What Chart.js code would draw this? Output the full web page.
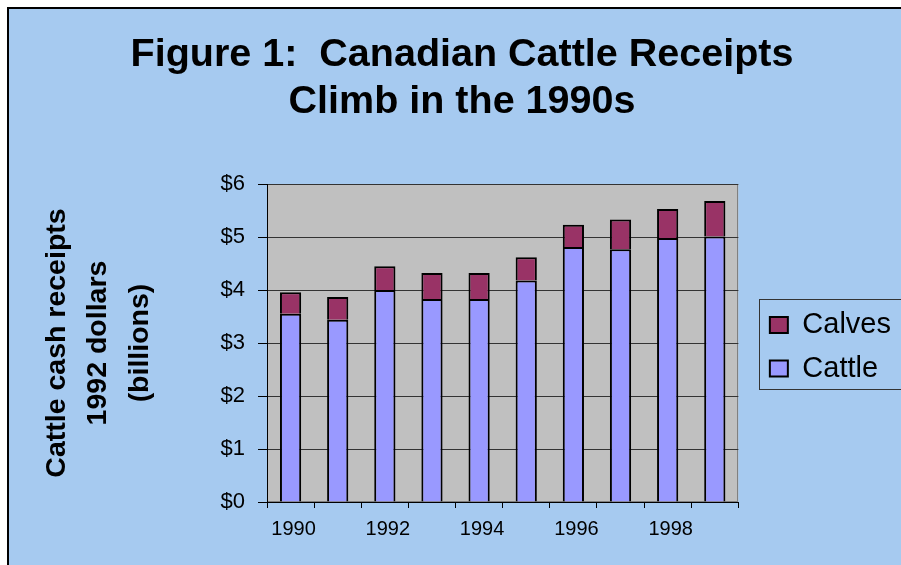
<!DOCTYPE html>
<html><head><meta charset="utf-8">
<script src="https://cdn.jsdelivr.net/npm/chart.js@4.4.1/dist/chart.umd.min.js"></script>
<style>html,body{margin:0;padding:0;background:#fff;overflow:hidden}canvas{display:block}</style>
</head><body>
<canvas id="c" width="901" height="565"></canvas>
<script>
const years = ['1990','1991','1992','1993','1994','1995','1996','1997','1998','1999'];
const cattle = [3.55, 3.44, 4.00, 3.83, 3.83, 4.18, 4.81, 4.77, 4.98, 5.01];
const calves = [0.41, 0.43, 0.45, 0.49, 0.49, 0.44, 0.42, 0.56, 0.55, 0.67];
const xTickLabels = ['1990','1992','1994','1996','1998'];
const yTickLabels = ['$0','$1','$2','$3','$4','$5','$6'];
const titleLines = ['Figure 1:  Canadian Cattle Receipts', 'Climb in the 1990s'];
const yTitleLines = ['Cattle cash receipts', '1992 dollars', '(billions)'];

Chart.defaults.font.family = "'Liberation Sans', Arial, sans-serif";
Chart.defaults.color = '#000';

const bgPlugin = {
  id: 'bg',
  beforeDraw(chart) {
    const {ctx, chartArea: a, width, height} = chart;
    ctx.save();
    ctx.fillStyle = '#ffffff'; ctx.fillRect(0, 0, width, height);
    ctx.fillStyle = '#000000'; ctx.fillRect(7, 7, width - 7, height - 7);
    ctx.fillStyle = '#A6CAF0'; ctx.fillRect(9, 9, width - 9, height - 9);
    ctx.fillStyle = '#C0C0C0'; ctx.fillRect(a.left, a.top, a.right - a.left, a.bottom - a.top);
    ctx.strokeStyle = '#808080'; ctx.lineWidth = 1;
    ctx.strokeRect(Math.round(a.left) + 0.5, Math.round(a.top) + 0.5, Math.round(a.right - a.left) - 1, Math.round(a.bottom - a.top) - 1);
    ctx.restore();
  },
  afterDraw(chart) {
    const hb = chart.legend && chart.legend.legendHitBoxes;
    if (!hb || !hb.length) return;
    const ctx = chart.ctx;
    ctx.save();
    ctx.strokeStyle = '#333333'; ctx.lineWidth = 1;
    const x = Math.round(hb[0].left - 11) + 0.5;
    const y = Math.round(hb[0].top - 11.5) + 0.5;
    ctx.strokeRect(x, y, 200, 90);
    ctx.restore();
  }
};

new Chart(document.getElementById('c'), {
  type: 'bar',
  data: {
    labels: years,
    datasets: [
      {label: 'Cattle', data: cattle, backgroundColor: '#9999FF', borderColor: '#000', borderWidth: 2,
       barPercentage: 0.45, categoryPercentage: 1, yAxisID: 'y'},
      {label: 'Calves', data: calves, backgroundColor: '#993366', borderColor: '#000', borderWidth: 2,
       barPercentage: 0.45, categoryPercentage: 1, yAxisID: 'y'}
    ]
  },
  options: {
    responsive: false, animation: false, devicePixelRatio: 1,
    layout: {padding: {left: 23, right: 0, top: 9, bottom: 0}},
    plugins: {
      title: {display: true, text: titleLines, color: '#000',
        font: {size: 39.5, weight: 'bold', lineHeight: 1.19}, padding: {top: 22.5, bottom: 58.5}},
      legend: {position: 'right', fullSize: false, reverse: true, align: 'center',
        title: {display: true, text: ' ', font: {size: 7.5, lineHeight: 1}, padding: 0},
        labels: {boxWidth: 18, boxHeight: 16, padding: 14.5, color: '#000', font: {size: 29}}},
      tooltip: {enabled: false}
    },
    scales: {
      x: {stacked: true,
        grid: {display: true, drawOnChartArea: false, drawTicks: true, tickLength: 6, color: '#000', offset: true},
        border: {display: true, color: '#000', width: 1},
        ticks: {autoSkip: false, maxRotation: 0, font: {size: 20}, color: '#000', padding: 9, labelOffset: 3,
          callback(v, i) { const l = years[i]; return xTickLabels.includes(l) ? l : ''; }},
        afterFit(s) { s.height = 63; }},
      y: {stacked: true, min: 0, max: 6,
        grid: {color: '#333', tickColor: '#000', tickLength: 9},
        border: {display: true, color: '#000', width: 1},
        ticks: {stepSize: 1, font: {size: 22}, color: '#000', padding: 13,
          callback(v) { return yTickLabels[v]; }},
        title: {display: true, text: yTitleLines, color: '#000',
          font: {size: 28.5, weight: 'bold', lineHeight: 1.46}, padding: {top: 13.2, bottom: 0}},
        afterFit(s) { s.width = 244; }},
      y2: {position: 'right', display: true,
        grid: {display: false, drawTicks: false}, ticks: {display: false}, border: {display: false},
        afterFit(s) { s.width = 17; }}
    }
  },
  plugins: [bgPlugin]
});
</script>
</body></html>
